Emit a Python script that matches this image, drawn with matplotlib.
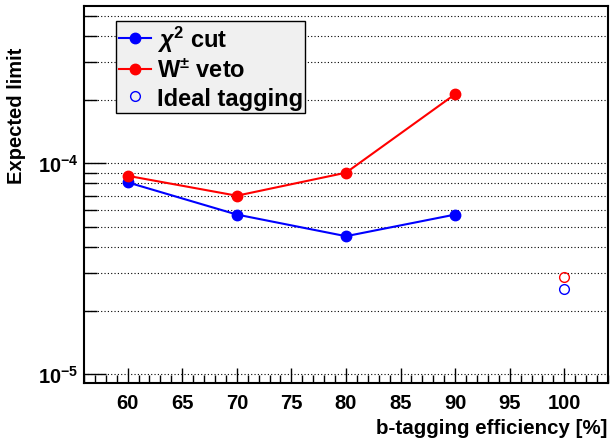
import numpy as np
import matplotlib
matplotlib.use('Agg')
import matplotlib.pyplot as plt
from matplotlib.ticker import LogLocator, MultipleLocator, FuncFormatter, NullFormatter

plt.rcParams['font.family'] = ['Liberation Sans', 'DejaVu Sans']
plt.rcParams['font.weight'] = 'bold'
plt.rcParams['mathtext.fontset'] = 'custom'
plt.rcParams['mathtext.rm'] = 'Liberation Sans:bold'
plt.rcParams['mathtext.bf'] = 'Liberation Sans:bold'
plt.rcParams['mathtext.it'] = 'Liberation Sans:italic'

# expected limits vs b-tagging efficiency
eff = [60, 70, 80, 90]
chi2_cut = [8.1e-5, 5.7e-5, 4.5e-5, 5.7e-5]
w_veto = [8.7e-5, 7.0e-5, 9.0e-5, 2.12e-4]

# ideal tagging (100 %)
ideal_eff = [100]
ideal_chi2 = [2.53e-5]
ideal_w = [2.87e-5]

fig = plt.figure(figsize=(6.1, 4.39), dpi=100)
ax = fig.add_axes([0.1377, 0.1253, 0.859, 0.8588])

ax.plot(eff, chi2_cut, '-o', color='#0000ff', lw=1.5, ms=7.5, label=r'$\chi^{\mathbf{2}}$ cut')
ax.plot(eff, w_veto, '-o', color='#ff0000', lw=1.5, ms=7.5, label=r'W$^{\pm}$ veto')
ax.plot(ideal_eff, ideal_w, 'o', mfc='none', mec='#ff0000', mew=1.0, ms=7)
ax.plot(ideal_eff, ideal_chi2, 'o', mfc='none', mec='#0000ff', mew=1.0, ms=7,
        label='Ideal tagging')

ax.set_yscale('log')
ax.set_xlim(56, 104)
ax.set_ylim(9.07e-6, 5.55e-4)

ax.xaxis.set_major_locator(MultipleLocator(5))
ax.xaxis.set_minor_locator(MultipleLocator(1))
ax.yaxis.set_major_locator(LogLocator(base=10))
ax.yaxis.set_minor_locator(LogLocator(base=10, subs=np.arange(2, 10)))
ax.yaxis.set_minor_formatter(NullFormatter())
ax.yaxis.set_major_formatter(FuncFormatter(
    lambda v, p: r'$\mathbf{10^{%d}}$' % int(round(np.log10(v)))))

ax.tick_params(which='both', direction='in', top=False, right=False,
               width=1.0, color='black')
ax.tick_params(which='major', length=11, pad=7, labelsize=14.5)
ax.tick_params(axis='y', which='major', length=16, pad=4, labelsize=14.5)
ax.tick_params(which='minor', length=6)
ax.tick_params(axis='y', which='minor', length=9)
for lab in ax.get_xticklabels():
    lab.set_fontweight('bold')

ax.yaxis.grid(True, which='both', color='black', linestyle=(0, (1, 2)), lw=0.8)
ax.xaxis.grid(False)
for sp in ax.spines.values():
    sp.set_linewidth(1.5)

fig.text(607 / 610, 1 - 434.5 / 439, 'b-tagging efficiency [%]', ha='right',
         va='baseline', fontsize=14.8, fontweight='bold')
fig.text(17 / 610, 1 - 116 / 439, 'Expected limit', rotation=90, ha='center',
         va='center', fontsize=14.5, fontweight='bold')

leg = ax.legend(loc='upper left', bbox_to_anchor=(0.0605, 0.961, 0.361, 0.0),
                mode='expand', fontsize=17, frameon=True, fancybox=False,
                edgecolor='black', facecolor='#f0f0f0', framealpha=1,
                borderpad=0.12, labelspacing=0.2, handlelength=1.37,
                handletextpad=0.28, borderaxespad=0)
leg.get_frame().set_linewidth(1.0)
for t in leg.get_texts():
    t.set_fontweight('bold')

fig.savefig('out.png', dpi=100)
